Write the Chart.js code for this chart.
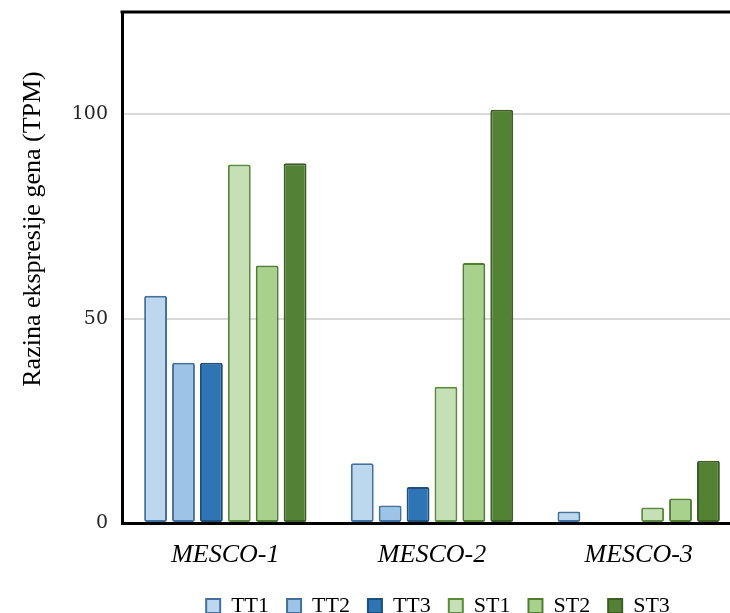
<!DOCTYPE html>
<html>
<head>
<meta charset="utf-8">
<script src="https://cdn.jsdelivr.net/npm/chart.js@4"></script>
<style>
    html, body { margin: 0; padding: 0; background: #fff; overflow: hidden; }
    #wrap { width: 730px; height: 613px; overflow: hidden; }
</style>
</head>
<body>
<div id="wrap"><canvas id="chart" width="876" height="613"></canvas></div>
<script>
// Gene names on x axis
const genes = ['MESCO-1', 'MESCO-2', 'MESCO-3'];

// Expression (TPM) per sample
const tt1 = [55.6, 14.6, 2.8];
const tt2 = [39.2, 4.3, 0];
const tt3 = [39.2, 8.8, 0];
const st1 = [87.7, 33.3, 3.8];
const st2 = [63.0, 63.6, 6.0];
const st3 = [88.0, 101.1, 15.2];

const yTicks = [0, 50, 100];
const yTitle = 'Razina ekspresije gena (TPM)';

// fill / border pairs, Office-like palette
const series = [
    { label: 'TT1', data: tt1, fill: '#bdd7ee', line: '#41719c' },
    { label: 'TT2', data: tt2, fill: '#9dc3e6', line: '#41719c' },
    { label: 'TT3', data: tt3, fill: '#2e75b6', line: '#1f4e79' },
    { label: 'ST1', data: st1, fill: '#c5e0b4', line: '#5a8a3c' },
    { label: 'ST2', data: st2, fill: '#a9d18e', line: '#4f7d31' },
    { label: 'ST3', data: st3, fill: '#548235', line: '#3b5e24' }
];

const serif = '"Liberation Serif", "Times New Roman", serif';

// top edge of the frame + the y title (sits above the middle in the original)
const frameTop = {
    id: 'frameTop',
    afterDraw(chart) {
        const { ctx, chartArea } = chart;
        ctx.save();
        ctx.strokeStyle = '#000';
        ctx.lineWidth = 3;
        ctx.beginPath();
        ctx.moveTo(chartArea.left - 1.5, chartArea.top);
        ctx.lineTo(chart.width, chartArea.top);
        ctx.stroke();

        ctx.translate(33, 229);
        ctx.rotate(-Math.PI / 2);
        ctx.fillStyle = '#000';
        ctx.font = '26px ' + serif;
        ctx.textAlign = 'center';
        ctx.textBaseline = 'middle';
        ctx.fillText(yTitle, 0, 0);
        ctx.restore();
    }
};

new Chart(document.getElementById('chart'), {
    type: 'bar',
    data: {
        labels: genes,
        datasets: series.map(s => ({
            label: s.label,
            data: s.data,
            backgroundColor: s.fill,
            borderColor: s.line,
            borderWidth: 2,
            borderRadius: 2,
            borderSkipped: false,
            categoryPercentage: 0.81,
            barPercentage: 0.82
        }))
    },
    options: {
        responsive: false,
        animation: false,
        devicePixelRatio: 1,
        layout: { padding: { top: 12, right: 0, bottom: -14, left: 0 } },
        plugins: {
            tooltip: { enabled: false },
            legend: {
                position: 'bottom',
                labels: {
                    boxWidth: 14,
                    boxHeight: 14,
                    padding: 18,
                    color: '#000',
                    font: { family: serif, size: 22 }
                }
            }
        },
        scales: {
            x: {
                grid: { display: false },
                border: { color: '#000', width: 3 },
                afterFit: (scale) => { scale.height = 54; },
                ticks: {
                    color: '#000',
                    padding: 9,
                    font: { family: serif, size: 26, style: 'italic' }
                }
            },
            y: {
                min: 0,
                max: 125,
                afterBuildTicks: (scale) => { scale.ticks = yTicks.map(v => ({ value: v })); },
                afterFit: (scale) => {
                    scale.width = 122;
                    scale.paddingTop = 0;
                    scale.paddingBottom = 0;
                },
                grid: { color: '#d9d9d9', lineWidth: 2, drawTicks: false },
                border: { color: '#000', width: 3 },
                ticks: {
                    color: '#262626',
                    padding: 14,
                    font: { family: '"DejaVu Serif", serif', size: 19 }
                }
            },
            // empty right-hand axis: reserves the part of the plot cut off by the window
            spare: {
                position: 'right',
                display: true,
                grid: { display: false },
                border: { display: false },
                ticks: { display: false },
                afterFit: (scale) => {
                    scale.width = 134;
                    scale.paddingTop = 0;
                    scale.paddingBottom = 0;
                }
            }
        }
    },
    plugins: [frameTop]
});
</script>
</body>
</html>
